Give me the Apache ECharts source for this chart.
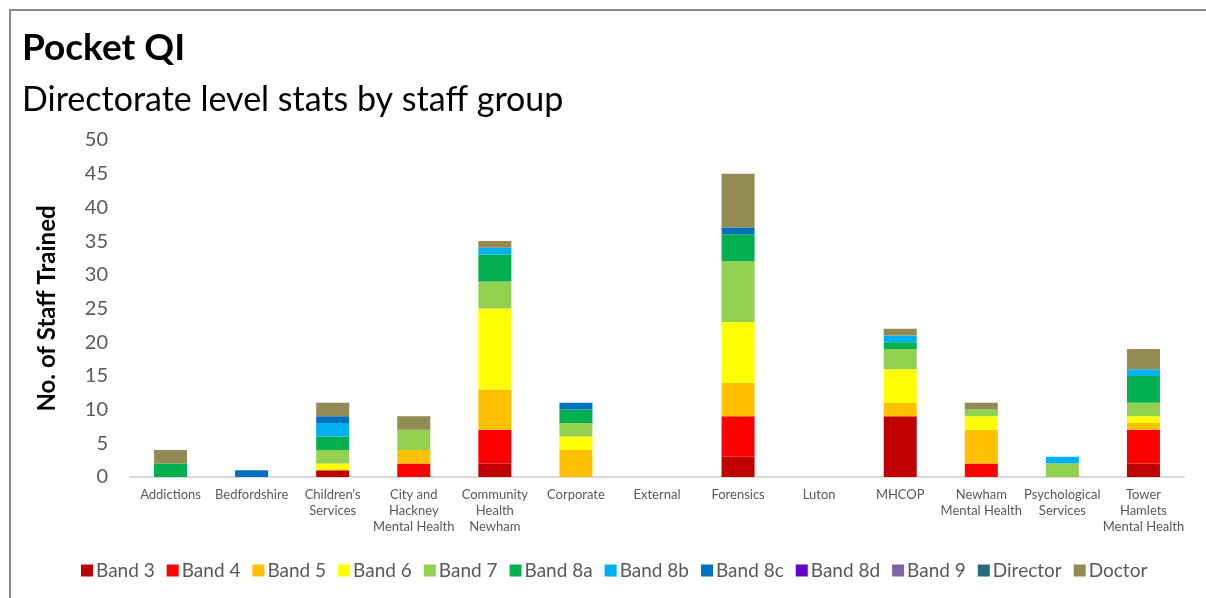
<!DOCTYPE html>
<html>
<head>
<meta charset="utf-8">
<script src="https://cdn.jsdelivr.net/npm/echarts@6/dist/echarts.min.js"></script>
<style>
  html, body { margin: 0; padding: 0; background: #fff; }
  #chart { width: 1206px; height: 598px; }
  #frame {
    position: absolute; left: 9px; top: 9px; right: 0; bottom: 0;
    border-left: 2px solid #8c8c8c; border-top: 2px solid #8c8c8c;
    pointer-events: none;
  }
</style>
</head>
<body>
<div id="chart"></div>
<div id="frame"></div>
<script>
// directorates
var categories = ['Addictions', 'Bedfordshire', "Children's\nServices", 'City and\nHackney\nMental Health',
  'Community\nHealth\nNewham', 'Corporate', 'External', 'Forensics', 'Luton', 'MHCOP',
  'Newham\nMental Health', 'Psychological\nServices', 'Tower\nHamlets\nMental Health'];

// staff trained per group, same order as categories
var band3    = [0, 0, 1, 0, 2, 0, 0, 3, 0, 9, 0, 0, 2];
var band4    = [0, 0, 0, 2, 5, 0, 0, 6, 0, 0, 2, 0, 5];
var band5    = [0, 0, 0, 2, 6, 4, 0, 5, 0, 2, 5, 0, 1];
var band6    = [0, 0, 1, 0, 12, 2, 0, 9, 0, 5, 2, 0, 1];
var band7    = [0, 0, 2, 3, 4, 2, 0, 9, 0, 3, 1, 2, 2];
var band8a   = [2, 0, 2, 0, 4, 2, 0, 4, 0, 1, 0, 0, 4];
var band8b   = [0, 0, 2, 0, 1, 0, 0, 0, 0, 1, 0, 1, 1];
var band8c   = [0, 1, 1, 0, 0, 1, 0, 1, 0, 0, 0, 0, 0];
var band8d   = [0, 0, 0, 0, 0, 0, 0, 0, 0, 0, 0, 0, 0];
var band9    = [0, 0, 0, 0, 0, 0, 0, 0, 0, 0, 0, 0, 0];
var director = [0, 0, 0, 0, 0, 0, 0, 0, 0, 0, 0, 0, 0];
var doctor   = [2, 0, 2, 2, 1, 0, 0, 8, 0, 1, 1, 0, 3];

var groups = [
  {name: 'Band 3', data: band3, color: '#C00000'},
  {name: 'Band 4', data: band4, color: '#FF0000'},
  {name: 'Band 5', data: band5, color: '#FFC000'},
  {name: 'Band 6', data: band6, color: '#FFFF00'},
  {name: 'Band 7', data: band7, color: '#92D050'},
  {name: 'Band 8a', data: band8a, color: '#00B050'},
  {name: 'Band 8b', data: band8b, color: '#00B0F0'},
  {name: 'Band 8c', data: band8c, color: '#0070C0'},
  {name: 'Band 8d', data: band8d, color: '#6600CC'},
  {name: 'Band 9', data: band9, color: '#8064A2'},
  {name: 'Director', data: director, color: '#276A7C'},
  {name: 'Doctor', data: doctor, color: '#948A54'}
];

var font = 'Lato, Carlito, "Noto Sans", sans-serif';
var chart = echarts.init(document.getElementById('chart'));

var option = {
  animation: false,
  textStyle: { fontFamily: font },
  title: [
    {
      text: 'Pocket QI',
      left: 17, top: 25,
      textStyle: { fontFamily: font, fontSize: 37, fontWeight: 'bold', color: '#000' }
    },
    {
      text: 'Directorate level stats by staff group',
      left: 17, top: 78,
      textStyle: { fontFamily: font, fontSize: 34, fontWeight: 'normal', color: '#000' }
    }
  ],
  legend: {
    bottom: 13,
    left: 76,
    itemWidth: 12,
    itemHeight: 12,
    itemGap: 12,
    icon: 'rect',
    textStyle: { fontFamily: font, fontSize: 19, color: '#595959', padding: [0, 0, 0, -2] },
    data: groups.map(function(g) { return g.name; })
  },
  grid: {
    left: 130,
    right: 22,
    top: 140,
    bottom: 121
  },
  xAxis: {
    type: 'category',
    data: categories,
    axisTick: { show: false },
    axisLine: { lineStyle: { color: '#d9d9d9', width: 2 } },
    axisLabel: {
      interval: 0,
      color: '#595959',
      fontSize: 13,
      lineHeight: 16,
      margin: 10,
      fontFamily: font
    }
  },
  yAxis: {
    type: 'value',
    min: 0,
    max: 50,
    interval: 5,
    name: 'No. of Staff Trained',
    nameLocation: 'middle',
    nameGap: 71,
    nameTextStyle: { fontFamily: font, fontSize: 24, fontWeight: 'bold', color: '#000' },
    axisLine: { show: false },
    axisTick: { show: false },
    splitLine: { show: false },
    axisLabel: { color: '#595959', fontSize: 20, margin: 22, fontFamily: font }
  },
  series: groups.map(function(g) {
    return {
      name: g.name,
      type: 'bar',
      stack: 'total',
      barWidth: 33,
      data: g.data,
      itemStyle: { color: g.color }
    };
  })
};

chart.setOption(option);
</script>
</body>
</html>
